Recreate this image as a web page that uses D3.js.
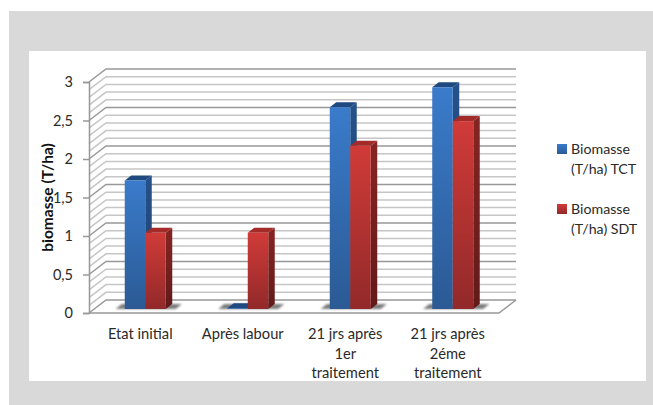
<!DOCTYPE html>
<html>
<head>
<meta charset="utf-8">
<script src="https://cdn.jsdelivr.net/npm/d3@7"></script>
<style>
html,body{margin:0;padding:0;background:#fff;}
svg{display:block;font-family:Lato,"Open Sans",sans-serif;}
</style>
</head>
<body>
<svg id="chart" width="653" height="405"></svg>
<script>
const categories = [["Etat initial"], ["Après labour"], ["21 jrs après", "1er", "traitement"], ["21 jrs après", "2éme", "traitement"]];
const seriesNames = [["Biomasse", "(T/ha) TCT"], ["Biomasse", "(T/ha) SDT"]];
const tct = [1.67, 0.01, 2.62, 2.88];
const sdt = [0.99, 0.99, 2.12, 2.44];
const tickLabels = ["0", "0,5", "1", "1,5", "2", "2,5", "3"];
const tickValues = [0, 0.5, 1, 1.5, 2, 2.5, 3];
const minorValues = d3.range(0, 31).map(d => d / 10);

const svg = d3.select("#chart");
const defs = svg.append("defs");

function vgrad(id, top, bottom) {
  const g = defs.append("linearGradient").attr("id", id).attr("x1", 0).attr("y1", 0).attr("x2", 0).attr("y2", 1);
  g.append("stop").attr("offset", 0).attr("stop-color", top);
  g.append("stop").attr("offset", 1).attr("stop-color", bottom);
}
vgrad("blueFront", "#3a7bcb", "#2b5a94");
vgrad("blueSide", "#25528a", "#1c3f6b");
vgrad("redFront", "#d03b38", "#92292a");
vgrad("redSide", "#862523", "#611a19");
defs.append("filter").attr("id", "soft").attr("x", "-30%").attr("y", "-100%").attr("width", "160%").attr("height", "300%")
  .append("feGaussianBlur").attr("stdDeviation", 1.2);

// Panel background
svg.append("rect").attr("x", 9).attr("y", 11).attr("width", 644).attr("height", 394).attr("fill", "#d9d9d9");
svg.append("rect").attr("x", 29).attr("y", 51).attr("width", 617).attr("height", 330).attr("fill", "#fff");

// Scales of the front plane
const y = d3.scaleLinear().domain([0, 3]).range([313, 82]);
const x0 = d3.scaleBand().domain(d3.range(categories.length)).range([89, 499]);
const depth = { dx: 17, dy: -13 };
const barDepth = { dx: 6.5, dy: -5 };
const barWidth = x0.bandwidth() / 5;
const barBaseShift = { dx: 5, dy: -4 };

const isMajor = v => Math.abs(v * 2 - Math.round(v * 2)) < 1e-6;

// Back wall and side wall gridlines
const grid = svg.append("g").attr("fill", "none");
minorValues.forEach(v => {
  const yy = y(v);
  grid.append("path")
    .attr("d", `M${x0.range()[0]},${yy}L${x0.range()[0] + depth.dx},${yy + depth.dy}H${x0.range()[1] + depth.dx}`)
    .attr("stroke", isMajor(v) ? "#989898" : "#c6c6c6")
    .attr("stroke-width", 1.5);
});

// Floor outline
grid.append("path")
  .attr("d", `M${x0.range()[0]},${y(0)}H${x0.range()[1]}L${x0.range()[1] + depth.dx},${y(0) + depth.dy}`)
  .attr("stroke", "#989898").attr("stroke-width", 1.5);

// Value axis
const axis = svg.append("g").attr("transform", `translate(${x0.range()[0]},0)`)
  .call(d3.axisLeft(y).tickValues(tickValues).tickSize(6).tickPadding(10).tickFormat((d, i) => tickLabels[i]));
axis.select(".domain").attr("stroke", "#989898").attr("stroke-width", 1.5);
axis.selectAll(".tick line").attr("stroke", "#989898").attr("stroke-width", 1.5);
axis.selectAll("text").attr("font-size", 14.5).attr("font-family", "Lato").attr("fill", "#2a2a2a");

// 3D bars
const series = [
  { values: tct, front: "url(#blueFront)", side: "url(#blueSide)", top: "#1f4a80", slot: 0 },
  { values: sdt, front: "url(#redFront)", side: "url(#redSide)", top: "#a32b29", slot: 1 }
];
const bars = svg.append("g");
categories.forEach((c, i) => {
  const groupLeft = x0(i) + x0.bandwidth() * 0.3 + barBaseShift.dx;
  const shadowY = y(0) + barBaseShift.dy;
  const left = groupLeft;
  const right = groupLeft + 2 * barWidth;
  bars.append("path")
    .attr("d", `M${left - 9},${shadowY}L${left - 3},${shadowY - 5}H${right + 16}L${right + 10},${shadowY}Z`)
    .attr("fill", "#7d7d7d").attr("filter", "url(#soft)");
  series.forEach(s => {
    const v = s.values[i];
    const bl = groupLeft + s.slot * barWidth;
    const br = bl + barWidth;
    const base = shadowY;
    const topY = base - (y(0) - y(v));
    bars.append("path")
      .attr("d", `M${br},${topY}l${barDepth.dx},${barDepth.dy}V${base + barDepth.dy}L${br},${base}Z`)
      .attr("fill", s.side);
    bars.append("path")
      .attr("d", `M${bl},${topY}l${barDepth.dx},${barDepth.dy}H${br + barDepth.dx}L${br},${topY}Z`)
      .attr("fill", s.top);
    bars.append("rect")
      .attr("x", bl).attr("y", topY).attr("width", barWidth).attr("height", base - topY)
      .attr("fill", s.front);
  });
});

// Category labels
const catLabels = svg.append("g").attr("font-size", 14.7).attr("fill", "#2a2a2a").attr("text-anchor", "middle");
categories.forEach((lines, i) => {
  const cx = x0(i) + x0.bandwidth() / 2;
  lines.forEach((t, k) => {
    catLabels.append("text").attr("x", cx).attr("y", 339 + k * 19.5).text(t);
  });
});

// Axis title
svg.append("text")
  .attr("transform", "translate(53,197.5) rotate(-90)")
  .attr("text-anchor", "middle")
  .attr("font-size", 15.5).attr("font-weight", 700).attr("fill", "#111")
  .text("biomasse (T/ha)");

// Legend
const legendColors = ["url(#blueFront)", "url(#redFront)"];
const legendTops = [148, 208];
seriesNames.forEach((lines, i) => {
  const g = svg.append("g");
  g.append("rect").attr("x", 557).attr("y", legendTops[i] - 4).attr("width", 10).attr("height", 10).attr("fill", legendColors[i]);
  lines.forEach((t, k) => {
    g.append("text").attr("x", 571).attr("y", legendTops[i] + 6 + k * 19.5)
      .attr("font-size", 14.2).attr("fill", "#2a2a2a").text(t);
  });
});
</script>
</body>
</html>
